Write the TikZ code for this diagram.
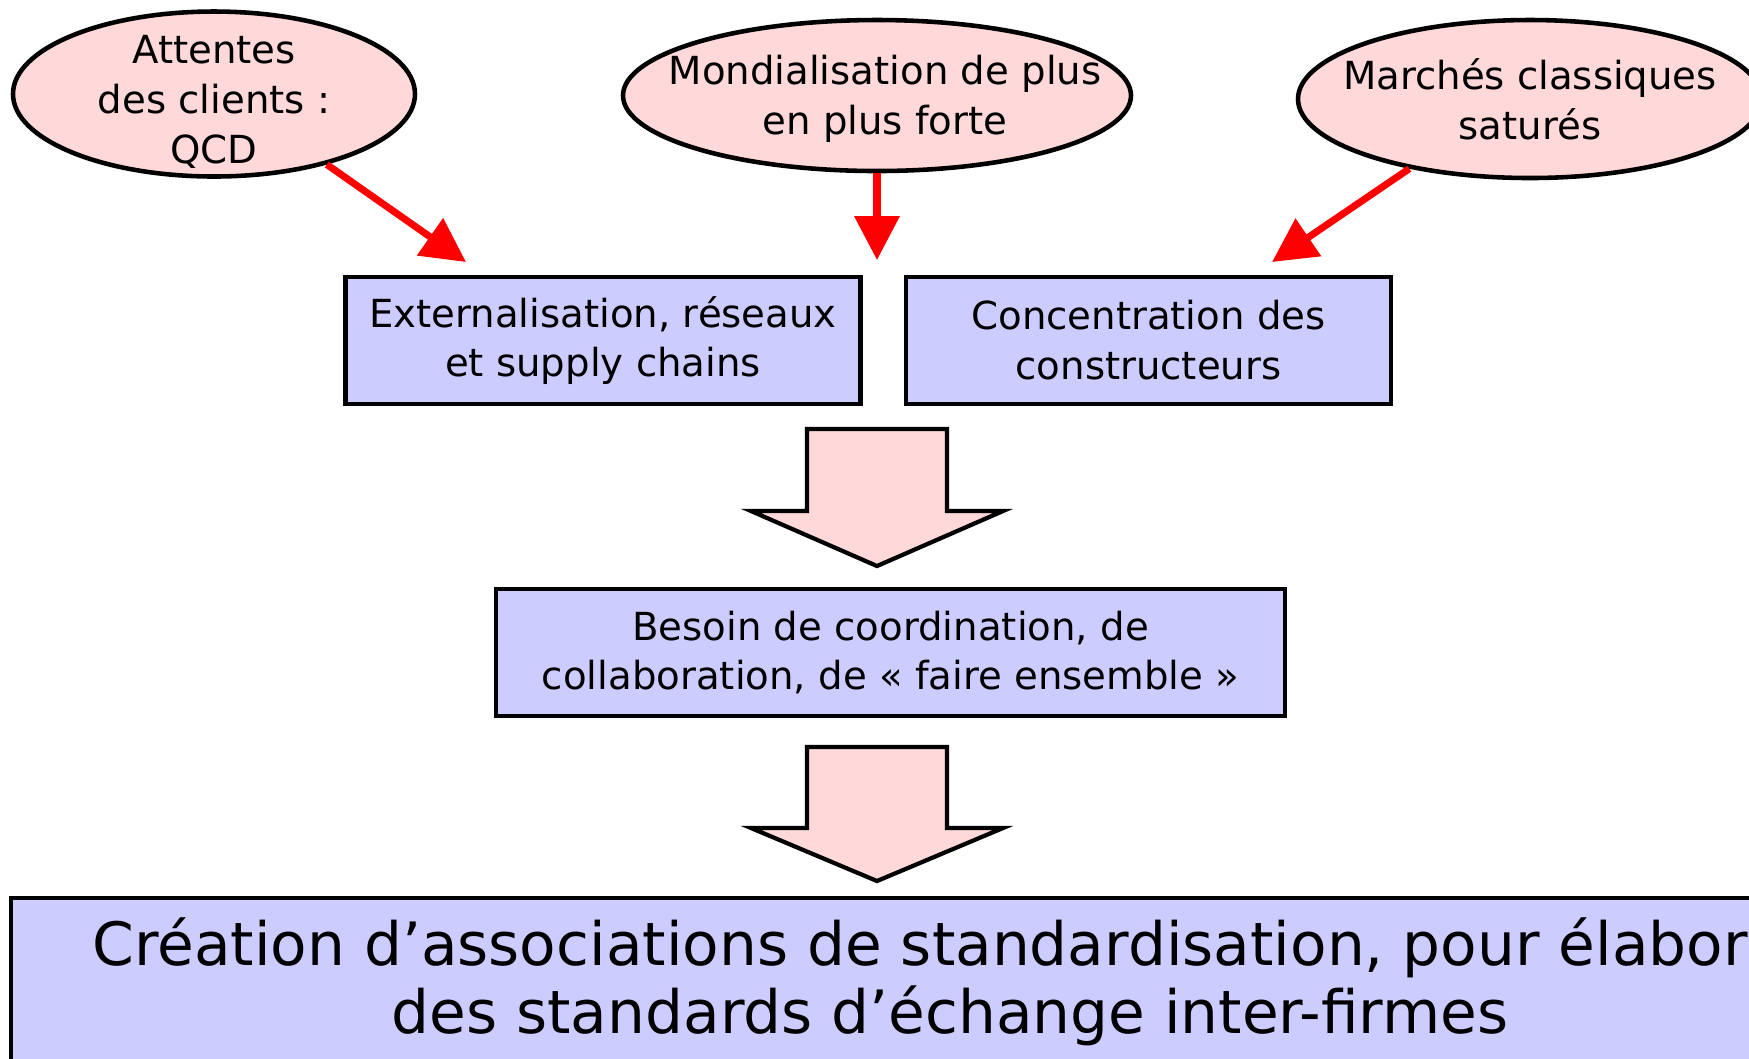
\documentclass[tikz,border=0pt]{standalone}
\usepackage{fontspec}
\setmainfont{DejaVu Sans}
\usetikzlibrary{shapes.geometric,arrows.meta}

\definecolor{rose}{RGB}{255,217,217}
\definecolor{lavande}{RGB}{204,204,255}

\begin{document}
\begin{tikzpicture}[
    bubble/.style={ellipse, draw, line width=1.3pt, fill=rose, inner sep=0pt},
    bubbletext/.style={align=center, font=\fontsize{11}{14.2}\selectfont},
    box/.style={rectangle, draw, line width=1.2pt, fill=lavande, align=center,
      font=\fontsize{11}{14.2}\selectfont},
    redarrow/.style={draw=red, line width=2pt, -{Triangle[length=4.4mm,width=4.4mm]}},
    bigarrow/.style={draw, line width=1.2pt, fill=rose, line join=miter}
  ]

  \useasboundingbox (0,0) rectangle (17.49,-10.58);
  \clip (0,0) rectangle (17.49,-10.58);

  % causes
  \begin{scope}[every node/.style={bubble}]
    \node[minimum width=4.02cm, minimum height=1.65cm] (attentes) at (2.14,-0.94)  {};
    \node[minimum width=5.08cm, minimum height=1.51cm] (mondial)  at (8.77,-0.955) {};
    \node[minimum width=4.64cm, minimum height=1.58cm] (marches)  at (15.30,-0.99) {};
  \end{scope}

  \begin{scope}[every node/.style={bubbletext}]
    \node (attentes-t) at (2.14,-1.02)  {Attentes\\des clients :\\QCD};
    \node (mondial-t)  at (8.85,-0.99)  {Mondialisation de plus\\en plus forte};
    \node (marches-t)  at (15.30,-0.99) {Marchés classiques\\saturés};
  \end{scope}

  % consequences
  \node[box, minimum width=5.15cm, minimum height=1.27cm] (extern)   at (6.03,-3.405)  {Externalisation, réseaux\\et supply chains};
  \node[box, minimum width=4.85cm, minimum height=1.27cm] (concentr) at (11.485,-3.405) {Concentration des\\constructeurs};
  \node[box, minimum width=7.89cm, minimum height=1.27cm] (besoin)   at (8.905,-6.525)  {Besoin de coordination, de\\collaboration, de « faire ensemble »};
  \node[box, minimum width=18.78cm, minimum height=1.68cm,
    font=\fontsize{17}{19.2}\selectfont] (creation) at (9.50,-9.82)
    {Création d'associations de standardisation, pour élaborer\\des standards d'échange inter-firmes};

  \coordinate (p1) at (4.66,-2.62);
  \coordinate (p2) at (8.77,-2.60);
  \coordinate (p3) at (12.72,-2.62);

  \begin{scope}[every edge/.style={redarrow}]
    \path (attentes.-32)  edge (p1);
    \path (mondial.south) edge (p2);
    \path (marches.-150)  edge (p3);
  \end{scope}

  % big arrows
  \draw[bigarrow] (8.07,-4.29) -- (9.47,-4.29) -- (9.47,-5.11) -- (10.03,-5.11)
    -- (8.77,-5.66) -- (7.51,-5.11) -- (8.07,-5.11) -- cycle;
  \draw[bigarrow] (8.07,-7.47) -- (9.47,-7.47) -- (9.47,-8.28) -- (10.03,-8.28)
    -- (8.77,-8.81) -- (7.51,-8.28) -- (8.07,-8.28) -- cycle;

\end{tikzpicture}
\end{document}
